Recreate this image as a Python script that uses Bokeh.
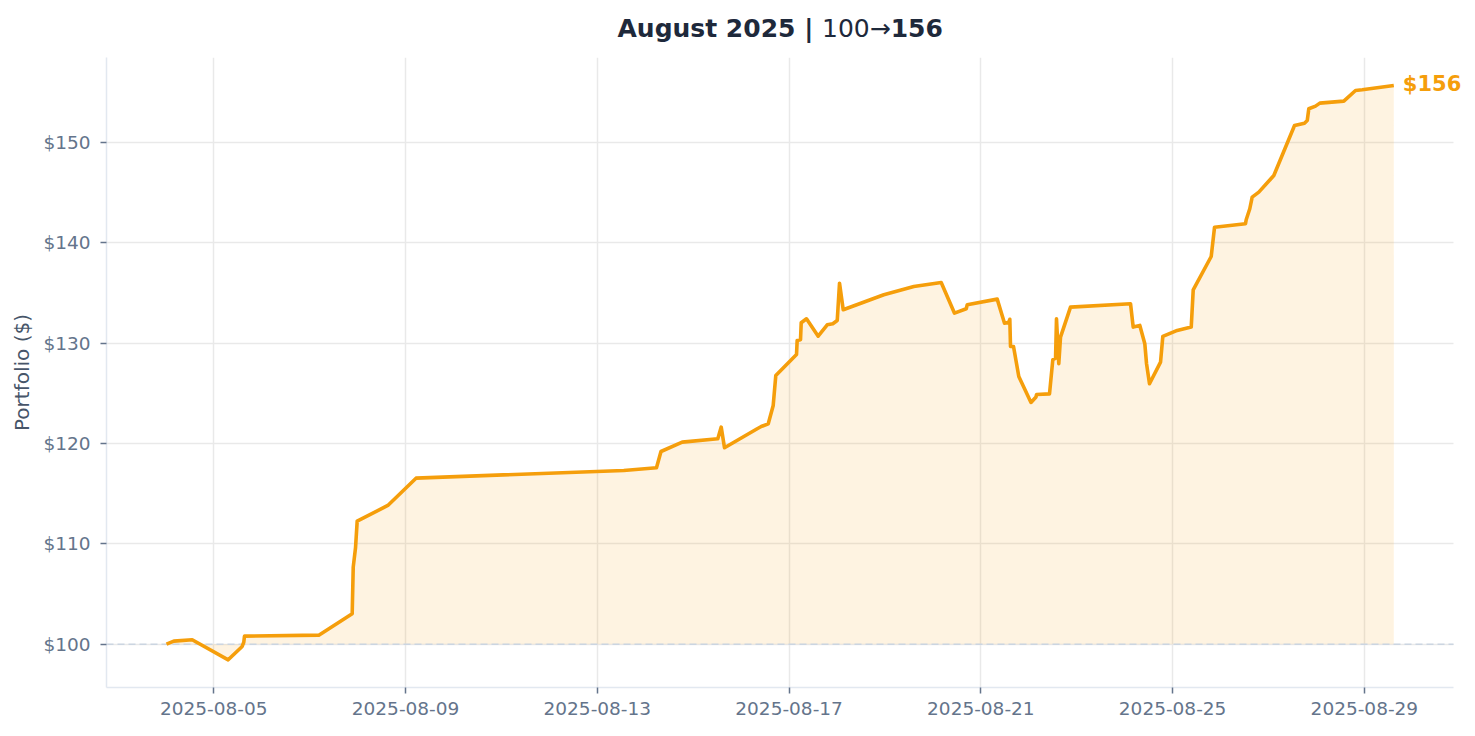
import pandas as pd
from bokeh.plotting import figure
from bokeh.layouts import column
from bokeh.models import (ColumnDataSource, FixedTicker, DatetimeTickFormatter,
                          PrintfTickFormatter, Label, Range1d)
from bokeh.embed import file_html
from bokeh.resources import INLINE

# ---- data ----
times = [
    "2025-08-04 00:19", "2025-08-04 03:59", "2025-08-04 13:11", "2025-08-05 07:12",
    "2025-08-05 14:12", "2025-08-05 15:01", "2025-08-05 15:22", "2025-08-07 04:34",
    "2025-08-07 21:17", "2025-08-07 21:48", "2025-08-07 22:57", "2025-08-07 23:47",
    "2025-08-08 15:07", "2025-08-09 05:14", "2025-08-13 13:15", "2025-08-14 05:37",
    "2025-08-14 07:52", "2025-08-14 18:30", "2025-08-15 12:19", "2025-08-15 14:01",
    "2025-08-15 15:40", "2025-08-16 08:02", "2025-08-16 10:03", "2025-08-16 13:34",
    "2025-08-16 16:03", "2025-08-16 17:21", "2025-08-17 03:43", "2025-08-17 04:03",
    "2025-08-17 05:43", "2025-08-17 06:04", "2025-08-17 08:43", "2025-08-17 14:34",
    "2025-08-17 19:05", "2025-08-17 21:53", "2025-08-18 00:06", "2025-08-18 01:15",
    "2025-08-18 03:06", "2025-08-18 23:25", "2025-08-19 14:27", "2025-08-20 04:09",
    "2025-08-20 10:49", "2025-08-20 16:41", "2025-08-20 17:11", "2025-08-21 08:11",
    "2025-08-21 11:51", "2025-08-21 14:00", "2025-08-21 14:30", "2025-08-21 14:51",
    "2025-08-21 16:21", "2025-08-21 19:00", "2025-08-22 01:06", "2025-08-22 03:37",
    "2025-08-22 03:52", "2025-08-22 10:22", "2025-08-22 12:01", "2025-08-22 13:24",
    "2025-08-22 13:52", "2025-08-22 15:01", "2025-08-22 15:53", "2025-08-22 20:53",
    "2025-08-24 02:56", "2025-08-24 04:16", "2025-08-24 07:35", "2025-08-24 10:05",
    "2025-08-24 10:57", "2025-08-24 12:26", "2025-08-24 17:57", "2025-08-24 19:06",
    "2025-08-25 02:18", "2025-08-25 09:19", "2025-08-25 10:19", "2025-08-25 19:19",
    "2025-08-25 20:59", "2025-08-26 12:29", "2025-08-26 12:50", "2025-08-26 14:38",
    "2025-08-26 15:50", "2025-08-26 19:09", "2025-08-27 02:40", "2025-08-27 13:02",
    "2025-08-27 18:01", "2025-08-27 19:24", "2025-08-27 20:11", "2025-08-27 23:33",
    "2025-08-28 01:42", "2025-08-28 13:42", "2025-08-28 19:34", "2025-08-28 22:55",
    "2025-08-29 14:44",
]
portfolio = [
    100.00, 100.30, 100.44, 98.44, 99.77, 100.20, 100.80, 100.90,
    103.03, 107.68, 109.61, 112.26, 113.83, 116.55, 117.32, 117.59,
    119.21, 120.14, 120.48, 121.64, 119.58, 121.48, 121.70, 121.97,
    123.80, 126.79, 128.88, 130.28, 130.35, 132.04, 132.44, 130.71,
    131.84, 131.94, 132.27, 135.99, 133.34, 134.84, 135.66, 136.06,
    133.00, 133.44, 133.84, 134.40, 132.00, 132.10, 132.39, 129.68,
    129.68, 126.69, 124.10, 124.65, 124.89, 124.95, 128.35, 128.51,
    132.44, 127.96, 130.61, 133.60, 133.94, 131.61, 131.78, 129.95,
    127.96, 125.96, 128.12, 130.68, 131.28, 131.61, 135.33, 138.65,
    141.57, 141.91, 142.31, 143.41, 144.57, 145.07, 146.73, 151.71,
    151.94, 152.21, 153.38, 153.64, 153.94, 154.14, 155.20, 155.27,
    155.70,
]
baseline_value = 100
x_tick_labels = ["2025-08-05", "2025-08-09", "2025-08-13", "2025-08-17",
                 "2025-08-21", "2025-08-25", "2025-08-29"]
y_ticks = [100, 110, 120, 130, 140, 150]
month_title = "August 2025"
y_label = "Portfolio ($)"

# ---- geometry (pixels) ----
W, H = 1467, 728
TITLE_H = 57                              # header strip holding the title
FL, FR, FB = 106, 1453, 687               # visible plotting area (page coords)
FONT = "DejaVu Sans"

def ms(s):
    return pd.Timestamp(s).value / 1e6

x0, x1 = ms("2025-08-02 18:17"), ms("2025-08-30 20:37")
y0, y1 = 95.68, 158.49
dx = (x1 - x0) / (FR - FL)

# ---- title strip (frame aligned with the main plot, data x == page x) ----
t = figure(width=W, height=TITLE_H, output_backend="svg", toolbar_location=None,
           title=None, x_range=Range1d(FL, W), y_range=Range1d(TITLE_H, 0),
           min_border_left=FL, min_border_right=0, min_border_top=0,
           min_border_bottom=0)
t.axis.visible = False
t.grid.visible = False
t.outline_line_color = None
t.background_fill_color = "white"
t.border_fill_color = "white"

first_v = round(portfolio[0])
end_v = round(portfolio[-1])
runs = [(f"{month_title} | ", "bold", 617.0),
        (f"{first_v}\u2192", "normal", 821.5),
        (f"{end_v}", "bold", 890.2)]
for txt, style, px in runs:
    t.add_layout(Label(x=px, y=27.5, text=txt,
                       text_font=FONT, text_font_size="25px", text_font_style=style,
                       text_color="#1e293b", text_baseline="middle",
                       text_align="left"))

# ---- main figure ----
dt = pd.to_datetime(times)
src = ColumnDataSource(dict(t=dt, v=portfolio, base=[baseline_value] * len(portfolio)))

p = figure(width=W, height=H - TITLE_H, x_axis_type="datetime", output_backend="svg",
           toolbar_location=None, title=None,
           x_range=Range1d(x0, x0 + (W - FL) * dx), y_range=Range1d(y0, y1),
           min_border_left=FL, min_border_right=0, min_border_top=0,
           min_border_bottom=H - FB)
p.outline_line_color = None
p.background_fill_color = "white"
p.border_fill_color = "white"

p.varea(x="t", y1="base", y2="v", source=src, fill_color="#f59e0b", fill_alpha=0.12)

# baseline (dashed) across the visible area
p.segment(x0=[x0], x1=[x1], y0=[baseline_value], y1=[baseline_value],
          line_color="#cbd5e1", line_dash="7 4", line_width=1.5)

p.line(x="t", y="v", source=src, line_color="#f59e0b", line_width=3.6, line_join="round")

# axes
xt = [ms(s) for s in x_tick_labels]
p.xaxis.ticker = FixedTicker(ticks=xt)
p.xaxis.formatter = DatetimeTickFormatter(days="%Y-%m-%d", months="%Y-%m-%d",
                                          hours="%Y-%m-%d")
p.xaxis.bounds = (x0, x1)
p.yaxis.ticker = FixedTicker(ticks=y_ticks)
p.yaxis.formatter = PrintfTickFormatter(format="$%d")
p.yaxis.axis_label = y_label

for ax in (p.xaxis[0], p.yaxis[0]):
    ax.axis_line_color = "#e2e8f0"
    ax.axis_line_width = 1.5
    ax.major_tick_line_color = "#64748b"
    ax.major_tick_line_width = 1.5
    ax.major_tick_out = 6
    ax.major_tick_in = 0
    ax.minor_tick_line_color = None
    ax.major_label_text_font = FONT
    ax.major_label_text_font_size = "18.5px"
    ax.major_label_text_color = "#64748b"
    ax.major_label_standoff = 8
p.yaxis.major_label_standoff = 10
p.yaxis.axis_label_text_font = FONT
p.yaxis.axis_label_text_font_size = "20px"
p.yaxis.axis_label_text_font_style = "normal"
p.yaxis.axis_label_text_color = "#475569"
p.yaxis.axis_label_standoff = 6

p.xgrid.ticker = FixedTicker(ticks=xt)
p.ygrid.ticker = FixedTicker(ticks=y_ticks)
p.ygrid.cross_bounds = (x0, x1)
for g in (p.xgrid[0], p.ygrid[0]):
    g.grid_line_color = "#e9e9e9"
    g.grid_line_width = 1.5

# end label
last_val = portfolio[-1]
p.add_layout(Label(x=ms(times[-1]), y=last_val, text=f"${round(last_val)}", x_offset=9,
                   y_offset=1.5, text_font=FONT, text_font_size="21px",
                   text_font_style="bold", text_color="#f59e0b",
                   text_baseline="middle", text_align="left"))

layout = column(t, p, spacing=0)
open("out.html", "w").write(file_html(layout, INLINE))
